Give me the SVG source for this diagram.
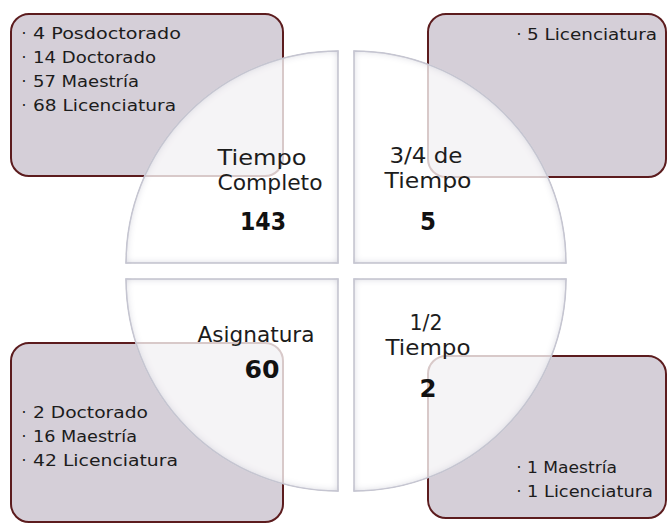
<svg xmlns="http://www.w3.org/2000/svg" width="668" height="526" viewBox="0 0 668 526">
<defs>
<style>
.box{fill:#d5cfd8;stroke:#5c1c1e;stroke-width:2}
.quad{fill:#ffffff;fill-opacity:0.76;stroke:#d2d2d8;stroke-width:1.5}
.t{font-family:"DejaVu Sans",sans-serif;font-size:15.5px;fill:#1c1c1c}
.b{font-family:"DejaVu Sans",sans-serif;font-size:15.5px;fill:#1c1c1c;text-anchor:middle}
.lbl{font-family:"DejaVu Sans",sans-serif;font-size:22px;fill:#1c1c1c;text-anchor:middle}
.num{font-family:"DejaVu Sans",sans-serif;font-size:25px;font-weight:bold;fill:#111111;text-anchor:middle}
</style>
<filter id="bevel" x="-5%" y="-5%" width="110%" height="110%">
<feGaussianBlur in="SourceAlpha" stdDeviation="4.5" result="blur"/>
<feComposite in="SourceAlpha" in2="blur" operator="arithmetic" k2="2" k3="-2" result="edge"/>
<feFlood flood-color="#bcbccc" flood-opacity="0.6"/>
<feComposite in2="edge" operator="in" result="shade"/>
<feMerge><feMergeNode in="SourceGraphic"/><feMergeNode in="shade"/></feMerge>
</filter>
</defs>
<rect width="668" height="526" fill="#ffffff"/>
<g id="box-tiempo-completo"><rect class="box" x="11" y="14" width="272" height="162" rx="18"/></g>
<g id="box-tres-cuartos"><rect class="box" x="428" y="14" width="238" height="163" rx="18"/></g>
<g id="box-asignatura"><rect class="box" x="11" y="343" width="272" height="179" rx="18"/></g>
<g id="box-medio"><rect class="box" x="428" y="356" width="238" height="162" rx="18"/></g>
<g id="connectors"></g>
<g id="quad-tiempo-completo"><path class="quad" filter="url(#bevel)" d="M338,263 L126,263 A212,212 0 0 1 338,51 Z"/></g>
<g id="quad-tres-cuartos"><path class="quad" filter="url(#bevel)" d="M354,263 L354,51 A212,212 0 0 1 566,263 Z"/></g>
<g id="quad-medio"><path class="quad" filter="url(#bevel)" d="M354,279 L566,279 A212,212 0 0 1 354,491 Z"/></g>
<g id="quad-asignatura"><path class="quad" filter="url(#bevel)" d="M338,279 L338,491 A212,212 0 0 1 126,279 Z"/></g>
<g id="text-tiempo-completo">
<text class="b" x="24" y="39">·</text><text class="t" x="33" y="39" textLength="148" lengthAdjust="spacingAndGlyphs">4 Posdoctorado</text>
<text class="b" x="24" y="63">·</text><text class="t" x="33" y="63" textLength="123" lengthAdjust="spacingAndGlyphs">14 Doctorado</text>
<text class="b" x="24" y="87">·</text><text class="t" x="33" y="87" textLength="106" lengthAdjust="spacingAndGlyphs">57 Maestría</text>
<text class="b" x="24" y="111">·</text><text class="t" x="33" y="111" textLength="143" lengthAdjust="spacingAndGlyphs">68 Licenciatura</text>
<text class="lbl" x="262" y="165" textLength="89" lengthAdjust="spacingAndGlyphs">Tiempo</text>
<text class="lbl" x="270" y="190" textLength="105" lengthAdjust="spacingAndGlyphs">Completo</text>
<text class="num" x="263" y="230" textLength="46" lengthAdjust="spacingAndGlyphs">143</text>
</g>
<g id="text-tres-cuartos">
<text class="b" x="519" y="40">·</text><text class="t" x="527" y="40" textLength="130" lengthAdjust="spacingAndGlyphs">5 Licenciatura</text>
<text class="lbl" x="426" y="163" textLength="73" lengthAdjust="spacingAndGlyphs">3/4 de</text>
<text class="lbl" x="428" y="188" textLength="87" lengthAdjust="spacingAndGlyphs">Tiempo</text>
<text class="num" x="428" y="230" textLength="16" lengthAdjust="spacingAndGlyphs">5</text>
</g>
<g id="text-asignatura">
<text class="lbl" x="256" y="342" textLength="117" lengthAdjust="spacingAndGlyphs">Asignatura</text>
<text class="num" x="262" y="378" textLength="35" lengthAdjust="spacingAndGlyphs">60</text>
<text class="b" x="24" y="418">·</text><text class="t" x="33" y="418" textLength="115" lengthAdjust="spacingAndGlyphs">2 Doctorado</text>
<text class="b" x="24" y="442">·</text><text class="t" x="33" y="442" textLength="104" lengthAdjust="spacingAndGlyphs">16 Maestría</text>
<text class="b" x="24" y="466">·</text><text class="t" x="33" y="466" textLength="145" lengthAdjust="spacingAndGlyphs">42 Licenciatura</text>
</g>
<g id="text-medio">
<text class="lbl" x="426" y="330" textLength="33" lengthAdjust="spacingAndGlyphs">1/2</text>
<text class="lbl" x="428" y="355" textLength="85" lengthAdjust="spacingAndGlyphs">Tiempo</text>
<text class="num" x="428" y="397" textLength="17" lengthAdjust="spacingAndGlyphs">2</text>
<text class="b" x="519" y="473">·</text><text class="t" x="527" y="473" textLength="90" lengthAdjust="spacingAndGlyphs">1 Maestría</text>
<text class="b" x="519" y="497">·</text><text class="t" x="527" y="497" textLength="126" lengthAdjust="spacingAndGlyphs">1 Licenciatura</text>
</g>
</svg>
